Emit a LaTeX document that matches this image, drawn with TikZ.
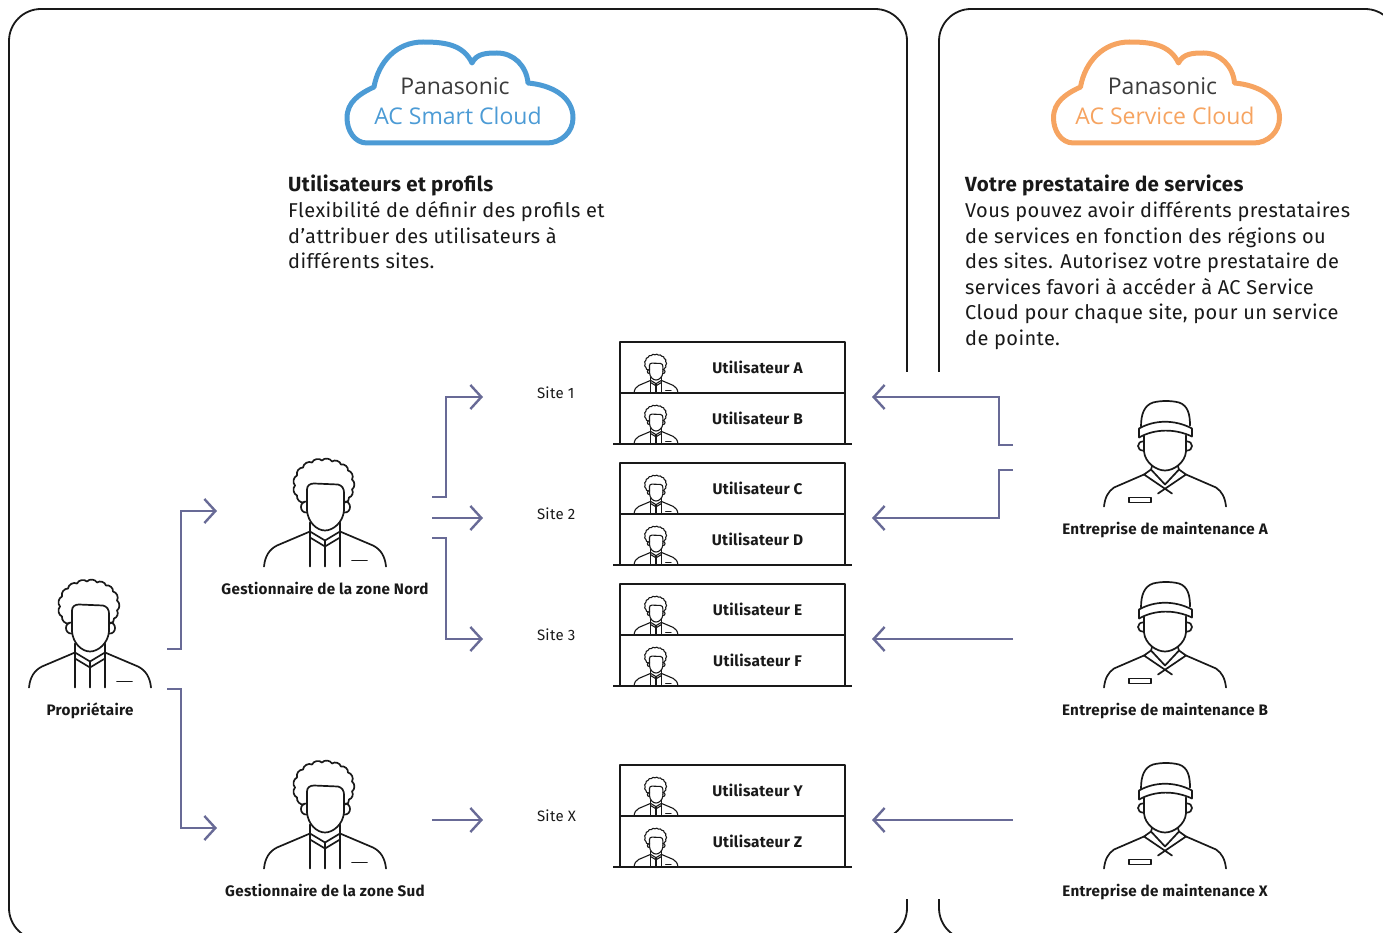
\documentclass[tikz,border=0pt]{standalone}
\usepackage{fontspec}
\setmainfont{Fira Sans}[LetterSpace=2]
\newfontfamily\cloudfont{Open Sans}
\usetikzlibrary{arrows.meta}

\definecolor{ink}{RGB}{25,25,25}
\definecolor{flowblue}{RGB}{104,106,150}
\definecolor{smartblue}{RGB}{76,155,213}
\definecolor{serviceorange}{RGB}{246,164,97}
\definecolor{cloudgray}{RGB}{60,60,60}

\tikzset{
  % office person, origin at the bottom centre
  manager/.pic={
    % hair
    \draw (-21,64) to[bend left=55] (-28,71) to[bend left=55] (-30,81)
      to[bend left=55] (-28,91) to[bend left=55] (-22,99) to[bend left=55] (-13,104)
      to[bend left=55] (-3,106) to[bend left=55] (7,105) to[bend left=55] (16,102)
      to[bend left=55] (23,96) to[bend left=55] (27,87) to[bend left=55] (27,77)
      to[bend left=55] (24,69) to[bend left=55] (20,64);
    % face
    \draw (-18,60) -- (-18,77) .. controls (-18,81) and (-15,83) .. (-11,83) -- (13,82)
      .. controls (17,81) and (19,78) .. (19,74) -- (19,60);
    \draw (-18,60) -- (-18,56) .. controls (-17,44) and (-8,36) .. (0,36)
      .. controls (8,36) and (18,44) .. (19,56) -- (19,60);
    % ears
    \draw (-18,65) .. controls (-26,66) and (-26,53) .. (-18,54);
    \draw (19,65) .. controls (27,66) and (27,53) .. (19,54);
    % neck, collar and shirt
    \draw (-15,44) -- (-15,0) (15,44) -- (15,0) (0,26) -- (0,0);
    \draw (-15,35) -- (0,26) -- (15,35) (-15,29) -- (0,20) -- (15,29);
    % shoulders
    \draw (-15,35) -- (-48,21) .. controls (-56,17) and (-60,10) .. (-61,0);
    \draw (15,35) -- (48,21) .. controls (56,17) and (60,10) .. (61,0);
    % pocket
    \draw (27,6) -- (42,6);
  },
  % maintenance worker with cap, origin at the bottom centre
  worker/.pic={
    % cap
    \draw (-24,80) .. controls (-24,92) and (-21,101) .. (-12,104)
      .. controls (-4,106) and (6,106) .. (14,104)
      .. controls (23,101) and (25,92) .. (25,81);
    \draw (-26,78) .. controls (-10,87) and (10,87) .. (27,78) -- (27,70)
      .. controls (10,78) and (-10,78) .. (-26,69) -- cycle;
    % face
    \draw (-21,71) -- (-21,55) .. controls (-20,44) and (-9,36) .. (0,36)
      .. controls (9,36) and (20,44) .. (21,55) -- (21,71);
    % ears
    \draw (-21,65) .. controls (-29,66) and (-29,55) .. (-21,56);
    \draw (21,65) .. controls (29,66) and (29,55) .. (21,56);
    % neck and collar
    \draw (-13,40) -- (-14,37) (13,40) -- (14,37);
    \draw (-14,37) -- (0,22) -- (14,37);
    \draw (-14,37) -- (-21,32) -- (7,13);
    \draw (14,37) -- (21,32) -- (-7,13);
    % shoulders
    \draw (-21,32) -- (-51,19) .. controls (-57,15) and (-60,9) .. (-61,0);
    \draw (21,32) -- (51,19) .. controls (57,15) and (60,9) .. (61,0);
    % badge
    \draw (-36,4) rectangle (-14,9);
  },
  % cloud outline, origin at the centre
  cloud/.pic={
    \draw (-92,-48) to[out=180,in=-90] (-112,-23) to[out=90,in=205] (-85,8)
      to[out=80,in=180] (-36,53) to[out=0,in=115] (13,32)
      to[out=65,in=180] (38,42) to[out=0,in=95] (69,12)
      to[out=-5,in=90] (114,-23) to[out=-90,in=0] (88,-48) -- cycle;
  },
}

\begin{document}
\begin{tikzpicture}[x=1pt, y=1pt, line cap=round, line join=round,
    panel/.style={draw=ink, line width=1.8pt, rounded corners=32pt},
    flow/.style={draw=flowblue, line width=2.6pt, line cap=butt, line join=miter,
      -{Straight Barb[length=11pt, width=24pt, line width=2.4pt]}},
    iconbox/.style={minimum width=120pt, minimum height=105pt, inner sep=0, outer sep=0},
    who/.style={anchor=base, inner sep=0, text=ink, font=\fontsize{15.2}{18}\selectfont\bfseries},
    site/.style={anchor=west, inner sep=0, outer sep=0, text=ink, font=\fontsize{15}{18}\selectfont},
    userrow/.style={draw=ink, line width=2pt, minimum width=225pt, minimum height=51pt,
      inner sep=0, outer sep=0},
    userlbl/.style={inner sep=0, text=ink, font=\fontsize{15.4}{18}\selectfont\bfseries},
    rowline/.style={draw=ink, line width=2.2pt, line cap=butt},
    brand/.style={anchor=base, inner sep=0, font=\cloudfont\fontsize{23}{26}\selectfont},
    para/.style={anchor=north west, align=left, inner sep=0, text=ink,
      font=\fontsize{20}{25.6}\selectfont}]

\useasboundingbox (0,0) rectangle (1383,-933);

% panels
\draw[panel] (9,-9) rectangle (907,-940);
\draw[panel] (939,-9) rectangle (1397,-940);
\fill[white] (895,-372) rectangle (951,-899);

% clouds
\pic[smartblue, line width=5pt] at (459,-95) {cloud};
\node[brand, text=cloudgray] (smartname) at (455,-95) {Panasonic};
\node[brand, text=smartblue] (smartlogo) at (458,-124.5) {AC Smart Cloud};

\pic[serviceorange, line width=5pt] at (1165.5,-95) {cloud};
\node[brand, text=cloudgray] (servicename) at (1162.5,-95) {Panasonic};
\node[brand, text=serviceorange] (servicelogo) at (1165,-124.5) {AC Service Cloud};

% descriptions
\node[para] (usertext) at (288,-175) {{\fontsize{20.5}{25.6}\selectfont\bfseries Utilisateurs et profils}\\
  Flexibilité de définir des profils et\\
  d’attribuer des utilisateurs à\\
  différents sites.};
\node[para] (servicetext) at (965,-175) {{\fontsize{20.5}{25.6}\selectfont\bfseries Votre prestataire de services}\\
  Vous pouvez avoir différents prestataires\\
  de services en fonction des régions ou\\
  des sites. Autorisez votre prestataire de\\
  services favori à accéder à AC Service\\
  Cloud pour chaque site, pour un service\\
  de pointe.};

% owner and zone managers
\node[iconbox] (owner) at (90,-635) {};
\pic[ink, line width=1.7pt] at (owner.south) {manager};
\node[who] (ownerlbl) at ([yshift=-28pt]owner.south) {Propriétaire};

\node[iconbox] (nord) at (325,-514) {};
\pic[ink, line width=1.7pt] at (nord.south) {manager};
\node[who] (nordlbl) at ([yshift=-28pt]nord.south) {Gestionnaire de la zone Nord};

\node[iconbox] (sud) at (325,-816) {};
\pic[ink, line width=1.7pt] at (sud.south) {manager};
\node[who] (sudlbl) at ([yshift=-28pt]sud.south) {Gestionnaire de la zone Sud};

% maintenance companies
\node[iconbox] (techA) at (1165,-454) {};
\pic[ink, line width=1.7pt] at (techA.south) {worker};
\node[who] (techAlbl) at ([yshift=-28pt]techA.south) {Entreprise de maintenance A};

\node[iconbox] (techB) at (1165,-635) {};
\pic[ink, line width=1.7pt] at (techB.south) {worker};
\node[who] (techBlbl) at ([yshift=-28pt]techB.south) {Entreprise de maintenance B};

\node[iconbox] (techX) at (1165,-816) {};
\pic[ink, line width=1.7pt] at (techX.south) {worker};
\node[who] (techXlbl) at ([yshift=-28pt]techX.south) {Entreprise de maintenance X};

% sites
\node[site] (site1) at (537,-393) {Site 1};
\node[site] (site2) at (537,-514) {Site 2};
\node[site] (site3) at (537,-635) {Site 3};
\node[site] (siteX) at (537,-816) {Site X};

% user rows
\foreach \u/\top in {A/342,B/393,C/463,D/514,E/584,F/635,Y/765,Z/816} {
  \node[userrow] (user\u) at (732.5,-\top-25.5) {};
  \pic[ink, scale=0.36, line width=1.1pt] at ([xshift=36pt]user\u.south west) {manager};
  \node[userlbl] at ([xshift=25pt]user\u.center) {Utilisateur \u};
}
\foreach \u in {B,D,F,Z}
  \draw[rowline] ([xshift=-7pt]user\u.south west) -- ([xshift=7pt]user\u.south east);

% owner to managers
\draw[flow] ([xshift=17pt,yshift=-14pt]owner.east) -- ++(14,0) |- ([xshift=-48pt,yshift=3pt]nord.west);
\draw[flow] ([xshift=17pt,yshift=-54pt]owner.east) -- ++(14,0) |- ([xshift=-48pt,yshift=-12pt]sud.west);

% managers to sites
\draw[flow] ([xshift=47pt,yshift=17pt]nord.east) -- ++(14,0) |- ([xshift=-54pt,yshift=-4pt]site1.west);
\draw[flow] ([xshift=47pt,yshift=-4pt]nord.east) -- ([xshift=-54pt,yshift=-4pt]site2.west);
\draw[flow] ([xshift=47pt,yshift=-24pt]nord.east) -- ++(14,0) |- ([xshift=-54pt,yshift=-4pt]site3.west);
\draw[flow] ([xshift=47pt,yshift=-4pt]sud.east) -- ([xshift=-54pt,yshift=-4pt]siteX.west);

% maintenance companies to user rows
\draw[flow] ([xshift=-92pt,yshift=9pt]techA.west) -- ++(-14,0) |- ([xshift=27pt,yshift=-4pt]userA.south east);
\draw[flow] ([xshift=-92pt,yshift=-16pt]techA.west) -- ++(-14,0) |- ([xshift=27pt,yshift=-4pt]userC.south east);
\draw[flow] ([xshift=-92pt,yshift=-4pt]techB.west) -- ([xshift=27pt,yshift=-4pt]userE.south east);
\draw[flow] ([xshift=-92pt,yshift=-4pt]techX.west) -- ([xshift=27pt,yshift=-4pt]userY.south east);

\end{tikzpicture}
\end{document}
